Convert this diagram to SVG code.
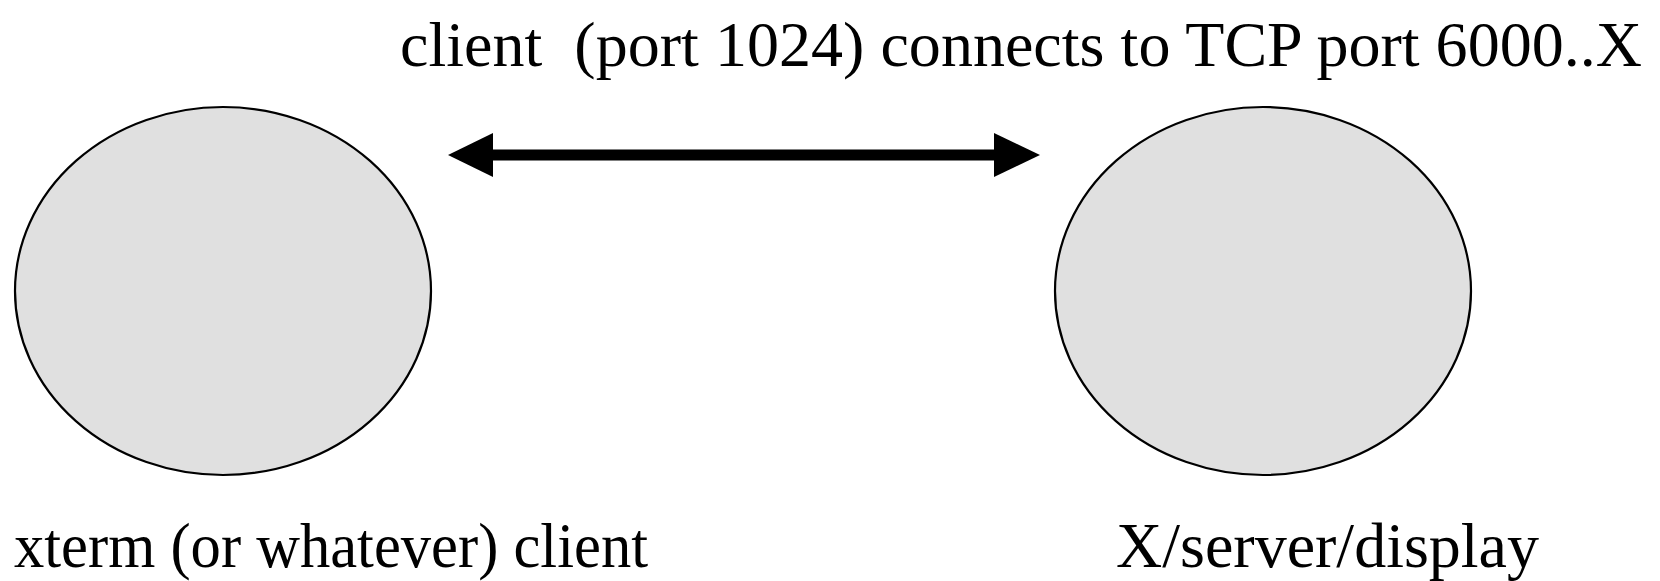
<svg xmlns="http://www.w3.org/2000/svg" width="1660" height="581" viewBox="0 0 1660 581">
  <style>
    .node { fill: #e0e0e0; stroke: #000; stroke-width: 2.2; }
    .label { font-family: "Liberation Serif", "Times New Roman", serif; font-size: 64px; fill: #000; }
    .link { stroke: #000; stroke-width: 11; fill: none; }
    .head { fill: #000; stroke: none; }
  </style>
  <rect width="1660" height="581" fill="#fff"/>

  <text class="label" x="400" y="66" xml:space="preserve" textLength="1242" lengthAdjust="spacing">client  (port 1024) connects to TCP port 6000..X</text>

  <g id="client">
    <ellipse class="node" cx="223" cy="291" rx="208" ry="184"/>
    <text class="label" x="14" y="567" textLength="634" lengthAdjust="spacingAndGlyphs">xterm (or whatever) client</text>
  </g>

  <g id="server">
    <ellipse class="node" cx="1263" cy="291" rx="208" ry="184"/>
    <text class="label" x="1116" y="567">X/server/display</text>
  </g>

  <g id="connectors">
    <line class="link" x1="490" y1="155" x2="997" y2="155"/>
    <polygon class="head" points="448,155 493,133 493,177"/>
    <polygon class="head" points="1040,155 994,133 994,177"/>
  </g>
</svg>
